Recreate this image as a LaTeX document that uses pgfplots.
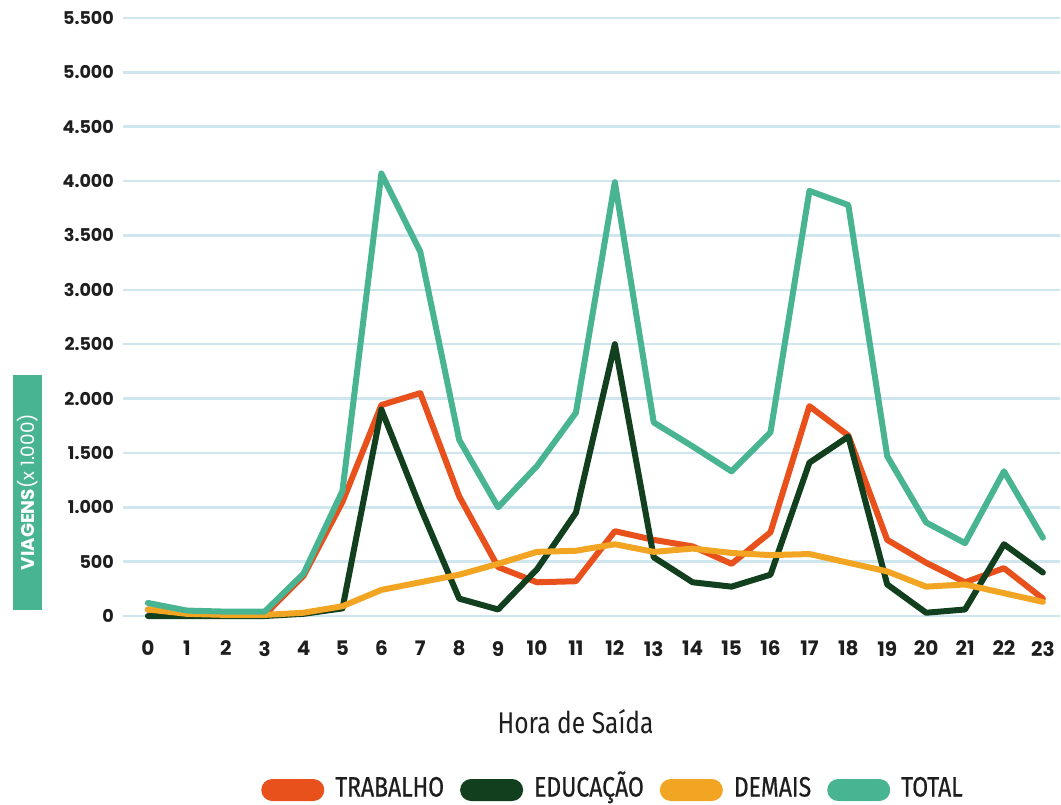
\documentclass[border=0pt]{standalone}
\usepackage{pgfplots}
\pgfplotsset{compat=1.18}
\usepackage{fontspec}
\setmainfont{Poppins}
\newfontfamily\cond{Fira Sans}[FakeStretch=0.82]
\newfontfamily\condleg{Fira Sans}[FakeStretch=0.82, FakeBold=0.6]

\definecolor{trab}{HTML}{E8501C}
\definecolor{educ}{HTML}{123F1E}
\definecolor{demais}{HTML}{F2A522}
\definecolor{total}{HTML}{48B491}
\definecolor{gridblue}{HTML}{CFE6EE}
\definecolor{ticktext}{HTML}{1E1E1E}

\begin{document}
\begin{tikzpicture}
\useasboundingbox (0,0) rectangle (530.5pt,402pt);
\begin{axis}[
  at={(61.5pt,94pt)}, anchor=south west,
  scale only axis, width=468.5pt, height=299pt,
  xmin=-0.64, xmax=23.44, ymin=0, ymax=5500,
  clip=false,
  axis line style={draw=none},
  xtick={0,...,23}, ytick={0,500,...,5500},
  major tick length=0pt,
  ymajorgrids, xmajorgrids=false,
  grid style={gridblue, line width=1.3pt},
  y tick label style={font=\fontsize{8.8}{10}\selectfont\bfseries, text=ticktext, xshift=-1pt},
  x tick label style={font=\fontsize{10}{12}\selectfont\bfseries, text=ticktext, yshift=-9pt},
  yticklabel style={/pgf/number format/.cd, 1000 sep={.}},
  /pgf/number format/assume math mode=true,
  every axis plot/.append style={line width=3pt, line join=round, line cap=round},
  xlabel={Hora de Saída},
  xlabel style={at={(axis description cs:0.483,-0.177)}, anchor=center,
    font=\cond\fontsize{15}{17}\selectfont, text=ticktext},
  ylabel={\textbf{VIAGENS}(x 1.000)},
  ylabel style={at={(axis description cs:-0.102,0.207)}, anchor=center,
    fill=total, text=white, font=\fontsize{9.2}{10}\selectfont,
    minimum width=117.5pt, minimum height=14.5pt, inner sep=1pt},
  legend style={at={(axis description cs:0.524,-0.291)}, anchor=center,
    draw=none, fill=none, font=\condleg\fontsize{14}{16}\selectfont,
    nodes={text height=9.5pt, text depth=3pt, text=ticktext},
    /tikz/every even column/.append style={column sep=6pt},
    /tikz/every odd column/.append style={column sep=3.5pt}},
  legend columns=4,
  legend image code/.code={\fill[#1, draw=none, rounded corners=5.5pt] (0pt,-5.5pt) rectangle (31.5pt,5.5pt);},
]
% TRABALHO
\addplot[trab] coordinates {
 (0,60) (1,20) (2,5) (3,10) (4,370) (5,1050) (6,1940) (7,2050) (8,1100) (9,450) (10,310) (11,320)
 (12,780) (13,700) (14,640) (15,480) (16,770) (17,1930) (18,1660) (19,700) (20,490) (21,310) (22,440) (23,160)};
\addlegendentry{TRABALHO}
% EDUCAÇÃO
\addplot[educ] coordinates {
 (0,0) (1,0) (2,0) (3,0) (4,20) (5,70) (6,1900) (7,1000) (8,160) (9,60) (10,430) (11,950)
 (12,2500) (13,540) (14,310) (15,270) (16,380) (17,1410) (18,1650) (19,290) (20,30) (21,60) (22,660) (23,400)};
\addlegendentry{EDUCAÇÃO}
% DEMAIS
\addplot[demais] coordinates {
 (0,60) (1,20) (2,10) (3,10) (4,30) (5,90) (6,240) (7,310) (8,380) (9,480) (10,590) (11,600)
 (12,660) (13,590) (14,620) (15,580) (16,560) (17,570) (18,490) (19,410) (20,270) (21,290) (22,210) (23,130)};
\addlegendentry{DEMAIS}
% TOTAL
\addplot[total] coordinates {
 (0,120) (1,50) (2,40) (3,40) (4,390) (5,1150) (6,4070) (7,3350) (8,1620) (9,1000) (10,1380) (11,1870)
 (12,3990) (13,1780) (14,1560) (15,1330) (16,1690) (17,3910) (18,3780) (19,1470) (20,860) (21,670) (22,1330) (23,720)};
\addlegendentry{TOTAL}
\end{axis}
\end{tikzpicture}
\end{document}
